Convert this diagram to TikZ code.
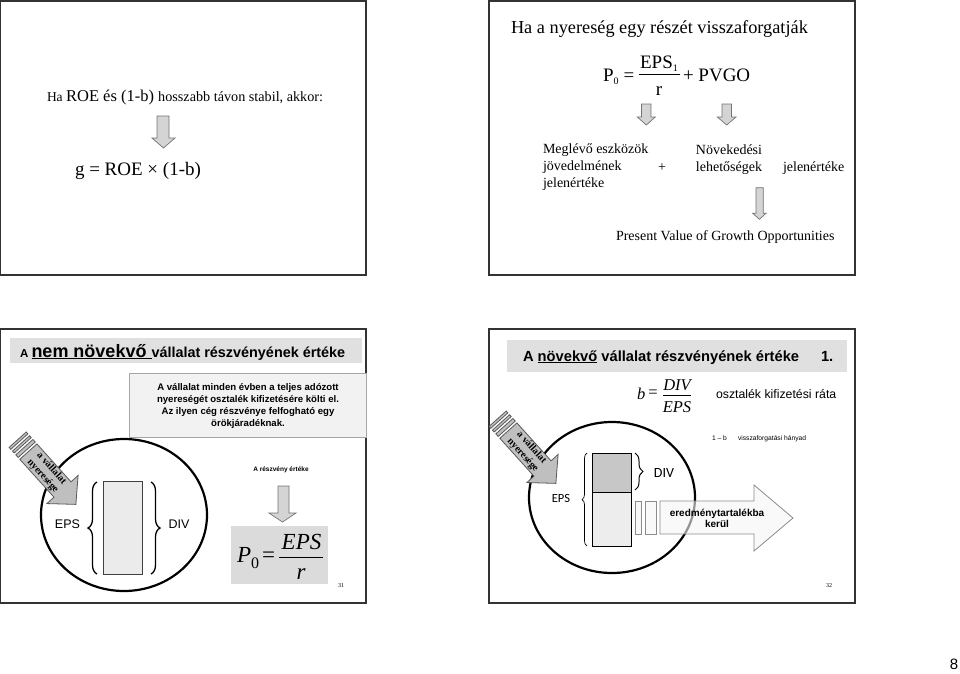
\documentclass[tikz,border=0pt]{standalone}
\usepackage{fontspec}
\setmainfont{Liberation Serif}
\setsansfont{Liberation Sans}
\newfontfamily\calib{Carlito}
\usetikzlibrary{decorations.pathreplacing}
\newcommand\fsz[2]{\fontsize{#1}{#2}\selectfont}
\tikzset{
  panel/.style={draw=black!80, line width=1.3pt},
  blkarrow/.style={fill=black!17, draw=black!55, line width=0.7pt},
  diagarrow/.style={fill=black!25, draw=black!65, line width=0.8pt},
  bigarrow/.style={fill=black!4, draw=black!45, line width=0.8pt, fill opacity=0.6},
  titlebar/.style={fill=black!12},
  bigbrace/.style={line width=1.3pt, decorate, decoration={brace, amplitude=#1}},
  fracbar/.style={line width=0.9pt},
  diaglabel/.style={rotate=-48, align=center, font=\bfseries\fsz{10}{11.5}},
}
\begin{document}
\begin{tikzpicture}[x=1pt,y=-1pt, every node/.style={inner sep=0pt, outer sep=0pt}]
\useasboundingbox (0,0) rectangle (960,673);

% ---------- Panel 1 ----------
\draw[panel] (0,1) rectangle (366,275);
\node[anchor=base west] (p1head) at (47,101) {\fsz{13.5}{16}Ha \fsz{16.5}{19}ROE és (1-b) \fsz{14.2}{17}hosszabb távon stabil, akkor:};
\draw[blkarrow] (157,116) -- (169,116) -- (169,138) -- (175,138) -- (163.5,148) -- (152,138) -- (157,138) -- cycle;
\node[anchor=base west, font=\fsz{19}{22}] (p1g) at (75,175) {g = ROE × (1-b)};

% ---------- Panel 2 ----------
\draw[panel] (489,1) rectangle (855,275);
\node[anchor=base west, font=\fsz{18.3}{21}] (p2head) at (511,33) {Ha a nyereség egy részét visszaforgatják};
\node[anchor=base west, font=\fsz{19}{22}] (p2P) at (603,81) {P\raisebox{-3pt}{\fsz{10}{10}0}};
\node[anchor=base, font=\fsz{19}{22}] (p2eq) at (629,81) {=};
\node[anchor=base, font=\fsz{19}{22}] (p2num) at (659,68) {EPS\raisebox{-3pt}{\fsz{10}{10}1}};
\node[anchor=base, font=\fsz{19}{22}] (p2den) at (659,95) {r};
\draw[fracbar] (639,74) -- (680,74);
\node[anchor=base west, font=\fsz{19}{22}] (p2pv) at (683,81) {+ PVGO};
\draw[blkarrow] (641.5,104) -- (651,104) -- (651,117) -- (655.3,117) -- (646.3,125) -- (637.3,117) -- (641.5,117) -- cycle;
\draw[blkarrow] (722,104) -- (731.4,104) -- (731.4,117) -- (736,117) -- (726.7,125) -- (717.3,117) -- (722,117) -- cycle;
\node[anchor=west, align=left, font=\fsz{14}{17}] (p2a) at (543,167.5) {Meglévő eszközök\\jövedelmének\\jelenértéke};
\node[anchor=base, font=\fsz{14}{17}] (p2plus) at (662,171) {+};
\node[align=center, font=\fsz{14}{17}] (p2b) at (729,159.5) {Növekedési\\lehetőségek};
\node[anchor=base west, font=\fsz{14}{17}] (p2c) at (783,171) {jelenértéke};
\draw[blkarrow] (756,187.7) -- (763.3,187.7) -- (763.3,213.3) -- (766,213.3) -- (759.4,219.3) -- (752.7,213.3) -- (756,213.3) -- cycle;
\node[anchor=base west, font=\fsz{14}{17}] (p2pvgo) at (616,240) {Present Value of Growth Opportunities};

% ---------- Panel 3 ----------
\draw[panel] (0,329) rectangle (366,603);
\fill[titlebar] (10,338) rectangle (362,363);
\node[anchor=base west, font=\sffamily\bfseries] (p3title) at (20,357) {\fsz{11.5}{14}A \fsz{18}{21}\underline{nem növekvő }\fsz{14.4}{17}vállalat részvényének értéke};
\draw[fill=black!5, draw=black!35, line width=0.8pt] (129,373) rectangle (366,437);
\node[align=center, font=\sffamily\bfseries\fsz{9.6}{12}] (p3box) at (248,406) {A vállalat minden évben a teljes adózott\\nyereségét osztalék kifizetésére költi el.\\Az ilyen cég részvénye felfogható egy\\örökjáradéknak.};
\draw[line width=2.2pt] (124,515) ellipse [x radius=83pt, y radius=76pt];
\draw[fill=black!8, draw=black!75, line width=1pt] (103,481) rectangle (142,574);
\draw[bigbrace=9pt] (97,574) -- (97,482);
\draw[bigbrace=9pt] (151,482) -- (151,574);
\node[font=\sffamily\fsz{12.5}{15}] (p3eps) at (67.5,524) {EPS};
\node[font=\sffamily\fsz{12.5}{15}] (p3div) at (179,524) {DIV};
\begin{scope}[shift={(62.5,489.5)}, rotate=-48]
  \draw[diagarrow] (-51,-11.5) -- (0,-11.5) -- (0,-21) -- (20,0) -- (0,21) -- (0,11.5) -- (-51,11.5) -- cycle;
  \draw[diagarrow] (-57,-11.5) rectangle (-53.5,11.5);
  \draw[diagarrow] (-62,-11.5) rectangle (-59.5,11.5);
  \draw[diagarrow] (-67,-11.5) rectangle (-64.5,11.5);
  \node[diaglabel] (p3lab) at (-23,0) {a vállalat\\nyeresége};
\end{scope}
\node[font=\sffamily\bfseries\fsz{6.5}{8}] (p3rv) at (281,470) {A részvény értéke};
\draw[blkarrow] (278,486) -- (289,486) -- (289,513) -- (296,513) -- (282.5,522) -- (269,513) -- (278,513) -- cycle;
\fill[black!14] (231,526) rectangle (328,584);
\node[anchor=base west, font=\fsz{23}{26}] (p3P) at (237,562) {\textit{P}\raisebox{-6pt}{\fsz{16}{16}0}};
\node[font=\fsz{23}{26}] (p3eq) at (268.5,557) {=};
\draw[fracbar] (279,557) -- (323,557);
\node[anchor=base, font=\itshape\fsz{23}{26}] (p3num) at (301.5,549) {EPS};
\node[anchor=base, font=\itshape\fsz{23}{26}] (p3den) at (301,579) {r};
\node[font=\fsz{6}{7}] (p3page) at (341,586) {31};

% ---------- Panel 4 ----------
\draw[panel] (489,329) rectangle (855,603);
\fill[titlebar] (507,340) rectangle (847,372);
\node[anchor=base west, font=\sffamily\bfseries\fsz{14.7}{17}] (p4title) at (523,361) {A \underline{növekvő} vállalat részvényének értéke};
\node[anchor=base west, font=\sffamily\bfseries\fsz{14.7}{17}] (p4one) at (821,361) {1.};
\node[anchor=base west, font=\itshape\fsz{16.5}{19}] (p4b) at (637,399) {b};
\node[font=\fsz{16.5}{19}] (p4eq) at (653,394) {=};
\node[anchor=base, font=\itshape\fsz{16.5}{19}] (p4num) at (677,390) {DIV};
\node[anchor=base, font=\itshape\fsz{16.5}{19}] (p4den) at (677,412.7) {EPS};
\draw[fracbar] (663,395) -- (691,395);
\node[anchor=base west, font=\sffamily\fsz{12.3}{15}] (p4osz) at (716,398) {osztalék kifizetési ráta};
\node[anchor=base west, font=\sffamily\fsz{6.7}{8}] (p4oneb) at (712,440) {1 – b};
\node[anchor=base west, font=\sffamily\fsz{6.7}{8}] (p4vissza) at (738,440) {visszaforgatási hányad};
\draw[line width=2.2pt] (612,497.5) ellipse [x radius=83pt, y radius=75.5pt];
\draw[fill=black!22, draw=black, line width=1pt] (592,453) rectangle (631,492);
\draw[fill=black!7, draw=black, line width=1pt] (592,492) rectangle (631,546);
\draw[line width=0.7pt, decorate, decoration={brace, amplitude=5pt}] (587,546) -- (587,453);
\draw[line width=1pt, decorate, decoration={brace, amplitude=8pt}] (635,453) -- (635,490);
\node[font=\calib\fsz{12.5}{15}] (p4eps) at (561,498) {EPS};
\node[font=\calib\fsz{14}{17}] (p4div) at (664,473) {DIV};
\draw[bigarrow] (635,501) rectangle (641,534);
\draw[bigarrow] (645,501) rectangle (656,534);
\draw[bigarrow] (660,501) -- (754,501) -- (754,485) -- (793,518) -- (754,551) -- (754,534) -- (660,534) -- cycle;
\node[align=center, font=\sffamily\bfseries\fsz{10}{11}] (p4ered) at (717,518) {eredménytartalékba\\kerül};
\begin{scope}[shift={(542.5,468.5)}, rotate=-48]
  \draw[diagarrow] (-51,-11.5) -- (0,-11.5) -- (0,-21) -- (20,0) -- (0,21) -- (0,11.5) -- (-51,11.5) -- cycle;
  \draw[diagarrow] (-57,-11.5) rectangle (-53.5,11.5);
  \draw[diagarrow] (-62,-11.5) rectangle (-59.5,11.5);
  \draw[diagarrow] (-67,-11.5) rectangle (-64.5,11.5);
  \node[diaglabel] (p4lab) at (-23,0) {a vállalat\\nyeresége};
\end{scope}
\node[font=\fsz{6}{7}] (p4page) at (829,586) {32};

\node[font=\sffamily\fsz{15}{18}] (pg) at (954,664) {8};
\end{tikzpicture}
\end{document}
